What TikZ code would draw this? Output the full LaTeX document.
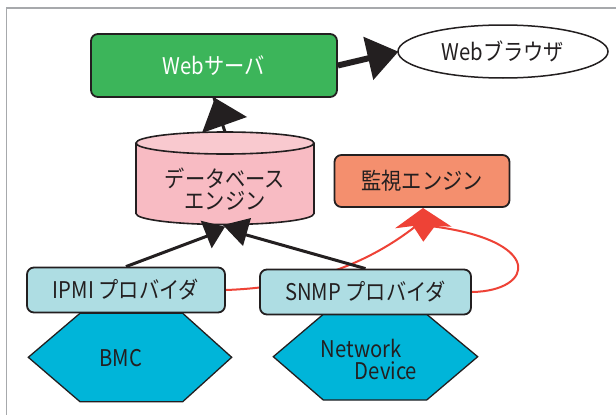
\documentclass[tikz,border=0pt]{standalone}
\usepackage{fontspec}
\setmainfont[FakeStretch=0.88]{Noto Sans CJK JP}
\usetikzlibrary{shapes.geometric,backgrounds}

\definecolor{ink}{HTML}{231F20}
\definecolor{framegray}{HTML}{A7A9AC}
\definecolor{webgreen}{HTML}{3CB55A}
\definecolor{dbpink}{HTML}{F8BBC3}
\definecolor{dbtop}{HTML}{F9C9CF}
\definecolor{monfill}{HTML}{F48F6E}
\definecolor{provfill}{HTML}{AEDDE3}
\definecolor{hexcyan}{HTML}{00B5D9}
\definecolor{alertred}{HTML}{EE4236}

\tikzset{
  txt/.style={font=\fontsize{23pt}{22pt}\selectfont, text=ink},
  procbox/.style={draw=ink, line width=1.8pt, rounded corners=7pt, inner sep=0pt, txt},
  hexshape/.style={draw=ink, line width=1.3pt, fill=hexcyan},
  wire/.style={draw=ink, line width=3pt},
  redwire/.style={draw=alertred, line width=2pt},
  headtip/.style={fill=ink},
}

\begin{document}
\begin{tikzpicture}[x=1pt,y=-1pt]
\useasboundingbox (0,0) rectangle (616,415);

% main boxes
\node[procbox, fill=webgreen, text=white, minimum width=246pt, minimum height=63pt] (web) at (214,65.5) {Webサーバ};
\node[ellipse, draw=ink, line width=1.5pt, fill=white, minimum width=210pt, minimum height=53pt, inner sep=0pt, txt] (browser) at (503,51.5) {Webブラウザ};
\node[procbox, fill=monfill, minimum width=175pt, minimum height=52pt] (mon) at (422,181) {監視エンジン};

% devices (hexagons)
\path[hexshape] (80,313.3) -- (182.7,313.3) -- (231.7,357.3) -- (182.7,401.7) -- (80,401.7) -- (28.3,357.3) -- cycle;
\node[txt] (bmc) at (121,358) {BMC};
\path[hexshape] (323.3,314.3) -- (426.7,314.3) -- (477.7,356.7) -- (426.7,400) -- (323.3,400) -- (273.3,356.7) -- cycle;
\node[txt, align=left, inner sep=0pt] (netdev) at (369,359) {Network\\\hspace*{34pt}Device};

% providers
\node[procbox, fill=provfill, minimum width=198pt, minimum height=45pt] (ipmi) at (126,290) {IPMI プロバイダ};
\node[procbox, fill=provfill, minimum width=211pt, minimum height=45pt] (snmp) at (365.5,292) {SNMP プロバイダ};

% database cylinder
\fill[dbpink] (136,143) rectangle (314,213.5);
\draw[ink, line width=1.6pt, fill=dbpink] (136,143) -- (136,213.5) .. controls (136,219.6) and (175.8,224.5) .. (225,224.5) .. controls (274.2,224.5) and (314,219.6) .. (314,213.5) -- (314,143);
\draw[ink, line width=1.6pt, fill=dbtop] (225,143) ellipse [x radius=89pt, y radius=11pt];
\node[txt, align=center, inner sep=0pt] (db) at (225,189) {データベース\\エンジン};

% connector end points
\coordinate (dbT) at (225,132);
\coordinate (dbL) at (210,235);
\coordinate (dbR) at (243,234);
\coordinate (headL) at (416,226);
\coordinate (headR) at (430,226);

% connectors, kept behind the shapes
\begin{scope}[on background layer]
  \fill[white] (0,0) rectangle (616,415);
  \draw[framegray, line width=1.5pt] (6.5,420) -- (6.5,8) -- (620,8);
  \draw[redwire] (ipmi.east) .. controls (310,287) and (370,262) .. (headL);
  \draw[redwire] (snmp.east) .. controls (535,291) and (545,240) .. (headR);
  \draw[wire] (dbT) -- (web.south);
  \draw[wire, line width=6pt, shorten >=18pt] (web.east) -- (browser.west);
  \draw[wire] (ipmi.north) -- (dbL);
  \draw[wire] (snmp.north) -- (dbR);
\end{scope}

% arrow heads
\fill[headtip] (215,98) -- (247,117) -- (202,133) -- cycle;
\fill[headtip] (398.3,51.7) -- (363.3,36.7) -- (373.3,80) -- cycle;
\fill[headtip] (200.7,220.7) -- (225,226.7) -- (211.7,248.3) -- cycle;
\fill[headtip] (223,225) -- (251,218) -- (243,246) -- cycle;
\fill[alertred] (423,208) -- (451.7,226.7) -- (435,226) -- (423.3,241.7) -- (413,226) -- (395,228.3) -- cycle;
\end{tikzpicture}
\end{document}
